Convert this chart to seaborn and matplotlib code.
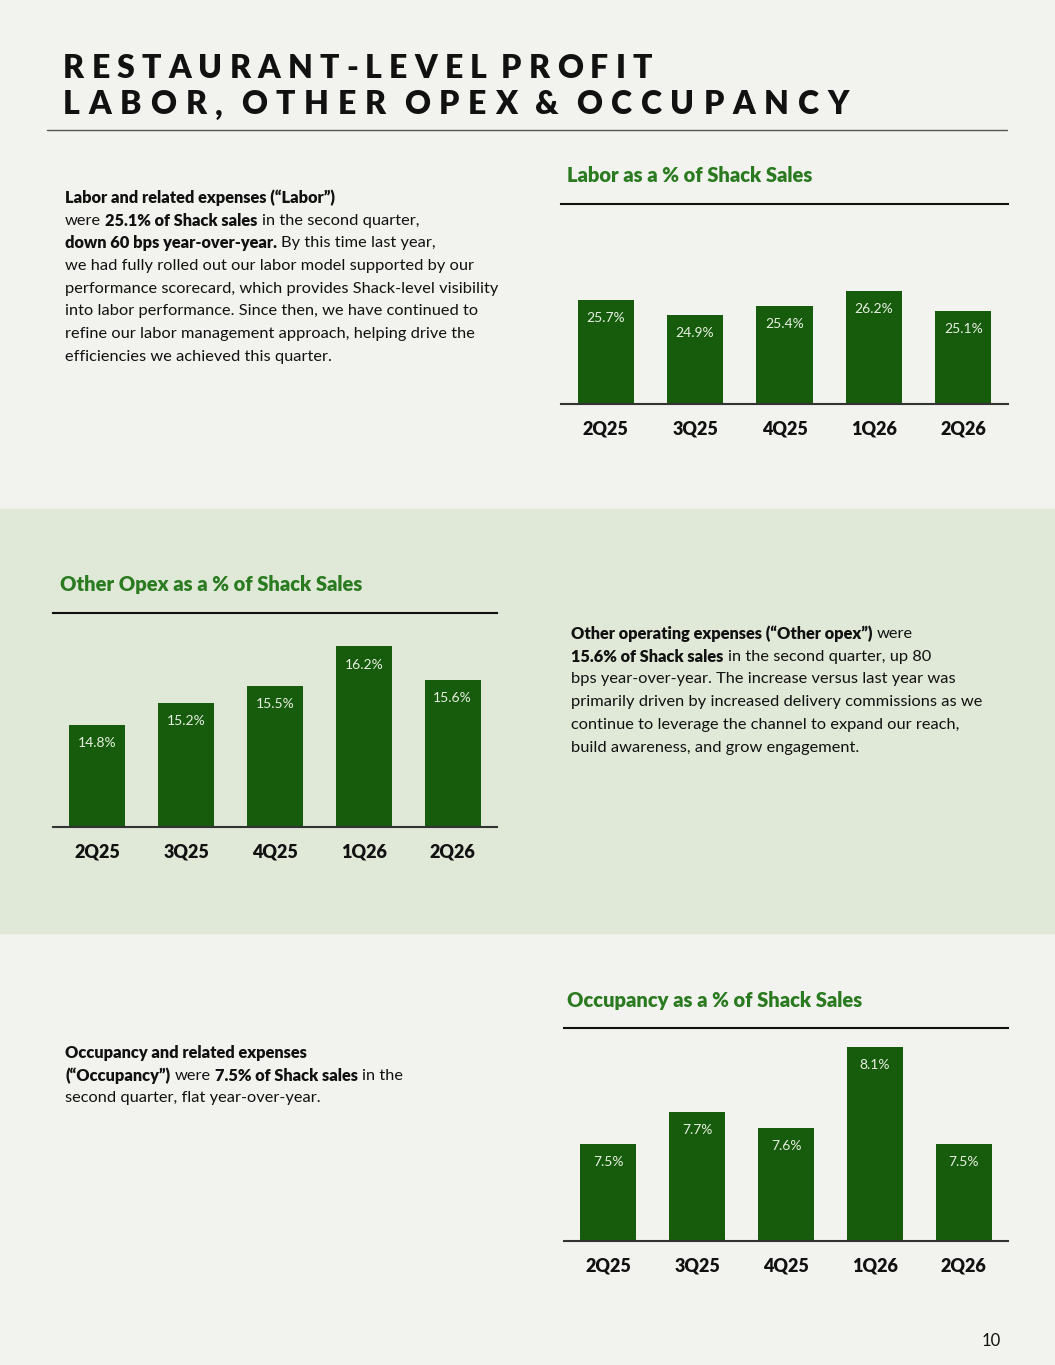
import numpy as np
import pandas as pd
import matplotlib
matplotlib.use("Agg")
import matplotlib.pyplot as plt
from matplotlib.patches import Rectangle
from matplotlib.lines import Line2D
import seaborn as sns

# Data
quarters = ["2Q25", "3Q25", "4Q25", "1Q26", "2Q26"]
labor_pct = [25.7, 24.9, 25.4, 26.2, 25.1]
opex_pct = [14.8, 15.2, 15.5, 16.2, 15.6]
occupancy_pct = [7.5, 7.7, 7.6, 8.1, 7.5]

# Colours
BG = "#f2f2ee"
BAND = "#e0e8d8"
BAR = "#165c0c"
TITLE_GREEN = "#2a7a20"
INK = "#111111"
LABEL = "#e8f0e2"

sns.set_style("white")
plt.rcParams["font.family"] = ["Lato", "DejaVu Sans"]

W, H = 1055, 1365
fig = plt.figure(figsize=(W / 100, H / 100), dpi=100, facecolor=BG)


def fx(x):
    return x / W


def fy(y):
    return 1 - y / H


# light green band behind the middle section
fig.patches.append(Rectangle((0, fy(933)), 1, (933 - 509) / H,
                             transform=fig.transFigure, color=BAND, zorder=-5))

renderer = fig.canvas.get_renderer()


def text_width(s, size, weight):
    t = fig.text(0, 0, s, fontsize=size, fontweight=weight)
    w = t.get_window_extent(renderer=renderer).width
    t.remove()
    return w


# page title, letter-spaced to the slide's width
title_lines = ["RESTAURANT-LEVEL PROFIT", "LABOR, OTHER OPEX & OCCUPANCY"]
for line, y, target in zip(title_lines, [69, 105], [589, 786]):
    size = 23
    widths = [text_width(c, size, "heavy") if c != " " else 0 for c in line]
    track = (target - sum(widths)) / (len(line) - 1)
    x = 63
    for c, w in zip(line, widths):
        if c == " ":
            x += track
            continue
        fig.text(fx(x), fy(y), c, fontsize=size, fontweight="heavy",
                 color=INK, va="center", ha="left")
        x += w + track
fig.add_artist(Line2D([fx(47), fx(1007)], [fy(130), fy(130)],
                      color="#555555", lw=1))


def rich_line(x, y, runs, size=11.8):
    # draw a line made of bold / regular runs next to each other
    for s, bold in runs:
        weight = "heavy" if bold else "normal"
        space = text_width("n n", size, weight) - text_width("nn", size, weight)
        lead = len(s) - len(s.lstrip(" "))
        trail = len(s) - len(s.rstrip(" "))
        x += lead * space
        core = s.strip(" ")
        t = fig.text(fx(x), fy(y), core, fontsize=size, fontweight=weight,
                     color=INK, va="center", ha="left")
        x += t.get_window_extent(renderer=renderer).width + trail * space


def paragraph(x, y0, lines, step=22.7):
    for i, runs in enumerate(lines):
        if isinstance(runs, str):
            runs = [(runs, False)]
        rich_line(x, y0 + i * step, runs)


labor_text = [
    [("Labor and related expenses (\u201cLabor\u201d)", True)],
    [("were ", False), ("25.1% of Shack sales", True), (" in the second quarter,", False)],
    [("down 60 bps year-over-year.", True), (" By this time last year,", False)],
    "we had fully rolled out our labor model supported by our",
    "performance scorecard, which provides Shack-level visibility",
    "into labor performance. Since then, we have continued to",
    "refine our labor management approach, helping drive the",
    "efficiencies we achieved this quarter.",
]
opex_text = [
    [("Other operating expenses (\u201cOther opex\u201d)", True), (" were", False)],
    [("15.6% of Shack sales", True), (" in the second quarter, up 80", False)],
    "bps year-over-year. The increase versus last year was",
    "primarily driven by increased delivery commissions as we",
    "continue to leverage the channel to expand our reach,",
    "build awareness, and grow engagement.",
]
occupancy_text = [
    [("Occupancy and related expenses", True)],
    [("(\u201cOccupancy\u201d)", True), (" were ", False), ("7.5% of Shack sales", True),
     (" in the", False)],
    "second quarter, flat year-over-year.",
]
paragraph(65, 198, labor_text)
paragraph(571, 634, opex_text)
paragraph(65, 1053, occupancy_text)


def bar_panel(rect, values, ylim, title, title_xy):
    left, top, right, bottom = rect
    ax = fig.add_axes([fx(left), fy(bottom), (right - left) / W, (bottom - top) / H])
    ax.set_facecolor("none")
    df = pd.DataFrame({"quarter": quarters, "value": values})
    sns.barplot(data=df, x="quarter", y="value", color=BAR, saturation=1,
                width=0.63, linewidth=0, ax=ax)
    ax.set_ylim(*ylim)
    ax.set_xlim(-0.5, len(quarters) - 0.5)
    for i, v in enumerate(values):
        ax.annotate(f"{v}%", (i, v), xytext=(0, -13), textcoords="offset points",
                    ha="center", va="center", fontsize=10, color=LABEL)
    ax.set_xlabel("")
    ax.set_ylabel("")
    ax.set_yticks([])
    ax.tick_params(axis="x", length=0, pad=12, labelsize=13, colors=INK)
    for lbl in ax.get_xticklabels():
        lbl.set_fontweight("heavy")
    for side in ["left", "right"]:
        ax.spines[side].set_visible(False)
    ax.spines["bottom"].set_color("#333333")
    ax.spines["bottom"].set_linewidth(1.5)
    ax.spines["top"].set_color(INK)
    ax.spines["top"].set_linewidth(1.5)
    fig.text(fx(title_xy[0]), fy(title_xy[1]), title, fontsize=14.5,
             fontweight="heavy", color=TITLE_GREEN, va="center", ha="left")
    return ax


bar_panel((561, 204, 1008, 403.7), labor_pct, (20.0, 31.0),
          "Labor as a % of Shack Sales", (567, 176))
bar_panel((53, 612.7, 497, 826.7), opex_pct, (13.0, 16.8),
          "Other Opex as a % of Shack Sales", (60, 585))
bar_panel((564, 1027.7, 1008, 1240.7), occupancy_pct, (6.9, 8.22),
          "Occupancy as a % of Shack Sales", (567, 1000))

fig.text(fx(1001), fy(1341), "10", fontsize=12, color=INK, ha="right", va="center")

fig.savefig("out.png", dpi=100, facecolor=BG)
